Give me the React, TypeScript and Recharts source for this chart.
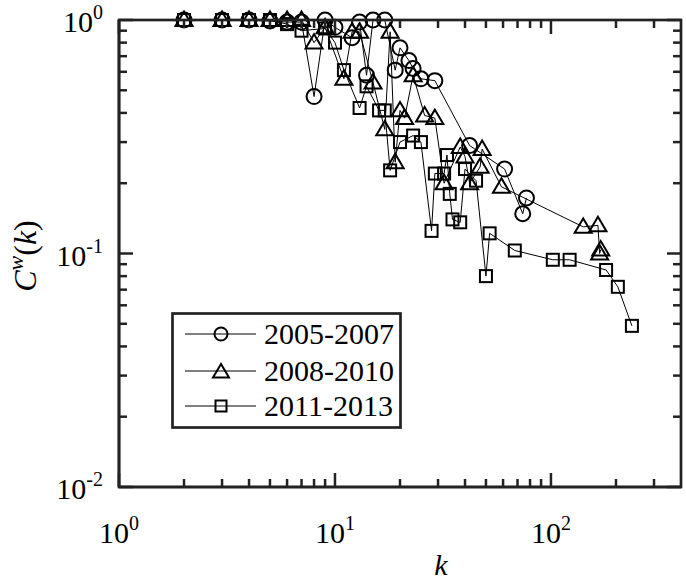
import { ScatterChart, Scatter, XAxis, YAxis } from 'recharts'

// k values and C^w(k)
const k0507 = [2, 3, 4, 5, 6, 7, 8, 9, 10, 12, 13, 14, 15, 17, 19, 20, 22, 23, 25, 29, 42, 61, 74, 77]
const c0507 = [1, 1, 1, 0.99, 0.98, 0.98, 0.47, 1.0, 0.93, 0.84, 0.98, 0.58, 1.0, 1.0, 0.61, 0.76, 0.67, 0.62, 0.56, 0.55, 0.29, 0.23, 0.148, 0.173]

const k0810 = [2, 3, 4, 5, 6, 7, 8, 9, 11, 12, 13, 15, 17, 18, 19, 20, 21, 23, 26, 29, 32, 38, 40, 42, 47, 48, 59, 141, 165, 168, 170]
const c0810 = [1, 1, 1, 1, 1, 1, 0.8, 0.93, 0.56, 0.89, 0.89, 0.54, 0.34, 0.89, 0.246, 0.41, 0.38, 0.58, 0.39, 0.38, 0.2, 0.286, 0.26, 0.2, 0.235, 0.28, 0.193, 0.13, 0.132, 0.1, 0.104]

const k1113 = [2, 3, 4, 5, 6, 7, 9, 10, 11, 13, 14, 16, 17, 18, 20, 23, 25, 28, 29, 32, 33, 34, 35, 38, 40, 45, 50, 52, 68, 102, 122, 180, 204, 237]
const c1113 = [1, 1, 1, 1, 0.96, 0.9, 0.92, 0.8, 0.61, 0.42, 0.52, 0.41, 0.41, 0.227, 0.3, 0.32, 0.3, 0.125, 0.22, 0.22, 0.264, 0.18, 0.14, 0.136, 0.23, 0.205, 0.08, 0.122, 0.103, 0.094, 0.094, 0.085, 0.072, 0.049]

const seriesNames = ['2005-2007', '2008-2010', '2011-2013']

const xTicks = [1, 2, 3, 4, 5, 6, 7, 8, 9, 10, 20, 30, 40, 50, 60, 70, 80, 90, 100, 200, 300]
const yTicks = [0.01, 0.02, 0.03, 0.04, 0.05, 0.06, 0.07, 0.08, 0.09, 0.1, 0.2, 0.3, 0.4, 0.5, 0.6, 0.7, 0.8, 0.9, 1]
const xDomain = [1, 400]
const yDomain = [0.01, 1]

const zip = (ks: number[], cs: number[]) => ks.map((k, i) => ({ k, c: cs[i] }))

const FONT = "'Liberation Serif', 'DejaVu Serif', serif"
const AX = '#222222'
const MAJOR = 14
const MINOR = 8
const LEFT = 119
const TOP = 20
const PLOT_W = 562
const PLOT_H = 467

const exponent = (v: number) => {
  const e = Math.log10(v)
  return Math.abs(e - Math.round(e)) < 1e-9 ? Math.round(e) : null
}

const Pow = ({ x, y, e, anchor }: any) => (
  <text x={x} y={y} textAnchor={anchor} style={{ fontFamily: FONT, fontSize: 30 }} fill="#000">
    <tspan>10</tspan>
    <tspan dy={-13} style={{ fontSize: 20 }}>{String(e)}</tspan>
  </text>
)

const BottomTick = ({ x, y, payload }: any) => {
  const e = exponent(payload.value)
  return (
    <g>
      <line x1={x} x2={x} y1={y} y2={y - (e !== null ? MAJOR : MINOR)} stroke={AX} strokeWidth={2.5} />
      {e !== null && <Pow x={x} y={y + 56} e={e} anchor="middle" />}
    </g>
  )
}

const LeftTick = ({ x, y, payload }: any) => {
  const e = exponent(payload.value)
  return (
    <g>
      <line x1={x} x2={x + (e !== null ? MAJOR : MINOR)} y1={y} y2={y} stroke={AX} strokeWidth={2.5} />
      {e !== null && <Pow x={x - 16} y={y + 12} e={e} anchor="end" />}
    </g>
  )
}

// full box outline with the inward ticks on the top and right edges
const FrameOverlay = () => {
  const lx = (v: number) => LEFT + (PLOT_W * Math.log10(v / xDomain[0])) / Math.log10(xDomain[1] / xDomain[0])
  const ly = (v: number) => TOP + (PLOT_H * Math.log10(yDomain[1] / v)) / Math.log10(yDomain[1] / yDomain[0])
  const right = LEFT + PLOT_W
  return (
    <svg
      width={686}
      height={584}
      viewBox="0 0 686 584"
      style={{ position: 'absolute', left: 0, top: 0, pointerEvents: 'none', zIndex: 5 }}
    >
      <rect x={LEFT} y={TOP} width={PLOT_W} height={PLOT_H} fill="none" stroke={AX} strokeWidth={2.7} />
      {xTicks.map((t) => (
        <path key={`t${t}`} d={`M${lx(t)},${TOP} V${TOP + (exponent(t) !== null ? MAJOR : MINOR)}`} stroke={AX} strokeWidth={2.5} />
      ))}
      {yTicks.map((t) => (
        <path key={`r${t}`} d={`M${right},${ly(t)} H${right - (exponent(t) !== null ? MAJOR : MINOR)}`} stroke={AX} strokeWidth={2.5} />
      ))}
    </svg>
  )
}

const CircleMark = ({ cx, cy, r = 7.5 }: any) => (
  <circle cx={cx} cy={cy} r={r} fill="none" stroke="#000" strokeWidth={2} />
)
const TriMark = ({ cx, cy, s = 8.5 }: any) => (
  <polygon
    points={`${cx},${cy - s} ${cx - s},${cy + s * 0.7} ${cx + s},${cy + s * 0.7}`}
    fill="none"
    stroke="#000"
    strokeWidth={2}
    strokeLinejoin="miter"
  />
)
const SquareMark = ({ cx, cy, s = 6 }: any) => (
  <rect x={cx - s} y={cy - s} width={s * 2} height={s * 2} fill="none" stroke="#000" strokeWidth={2} />
)

const marks = [CircleMark, TriMark, SquareMark]

const LegendBox = () => {
  const rows = [22, 59, 94]
  return (
    <svg width={232} height={118} style={{ display: 'block' }}>
      <rect x={1.5} y={1.5} width={228} height={114} fill="#fff" stroke={AX} strokeWidth={2.7} />
      {seriesNames.map((name, i) => {
        const Mk = marks[i]
        const y = rows[i]
        return (
          <g key={name}>
            <line x1={14} x2={85} y1={y} y2={y} stroke="#000" strokeWidth={1} />
            {i === 0 && <Mk cx={50} cy={y} r={6.5} />}
            {i === 1 && <Mk cx={50} cy={y + 1} s={8} />}
            {i === 2 && <Mk cx={50} cy={y} s={5.5} />}
            <text x={93} y={y + 10} style={{ fontFamily: FONT, fontSize: 30 }} fill="#000">
              {name}
            </text>
          </g>
        )
      })}
    </svg>
  )
}

export default function App() {
  const data = [zip(k0507, c0507), zip(k0810, c0810), zip(k1113, c1113)]
  return (
    <div style={{ position: 'absolute', left: 0, top: 0, width: 686, height: 584 }}>
      <ScatterChart width={686} height={584} margin={{ top: TOP, right: 5, bottom: 96, left: LEFT - 1 }}>
        <XAxis
          xAxisId="b"
          dataKey="k"
          type="number"
          scale="log"
          domain={xDomain}
          ticks={xTicks}
          interval={0}
          height={1}
          tickSize={0}
          tickMargin={0}
          tickLine={false}
          tick={<BottomTick />}
          axisLine={{ stroke: AX, strokeWidth: 2.7 }}
          label={{
            content: () => (
              <text x={441} y={575} textAnchor="middle" style={{ fontFamily: FONT, fontSize: 30, fontStyle: 'italic' }} fill="#000">
                k
              </text>
            ),
          }}
        />
        <YAxis
          yAxisId="l"
          dataKey="c"
          type="number"
          scale="log"
          domain={yDomain}
          ticks={yTicks}
          interval={0}
          width={1}
          tickSize={0}
          tickMargin={0}
          tickLine={false}
          tick={<LeftTick />}
          axisLine={{ stroke: AX, strokeWidth: 2.7 }}
          label={{
            content: () => (
              <text
                x={36}
                y={256}
                transform="rotate(-90 36 256)"
                textAnchor="middle"
                style={{ fontFamily: FONT, fontSize: 32 }}
                fill="#000"
              >
                <tspan style={{ fontStyle: 'italic' }}>C</tspan>
                <tspan style={{ fontStyle: 'italic', fontSize: 22 }} dy={-13}>w</tspan>
                <tspan dy={13}>(</tspan>
                <tspan style={{ fontStyle: 'italic' }}>k</tspan>
                <tspan>)</tspan>
              </text>
            ),
          }}
        />
        {data.map((d, i) => {
          const Mk = marks[i]
          return (
            <Scatter
              key={seriesNames[i]}
              name={seriesNames[i]}
              data={d}
              xAxisId="b"
              yAxisId="l"
              line={{ stroke: '#000', strokeWidth: 1 }}
              lineType="joint"
              shape={(p: any) => <Mk cx={p.cx} cy={p.cy} />}
              isAnimationActive={false}
            />
          )
        })}
      </ScatterChart>
      <FrameOverlay />
      <div style={{ position: 'absolute', left: 171, top: 312, zIndex: 6 }}>
        <LegendBox />
      </div>
    </div>
  )
}
